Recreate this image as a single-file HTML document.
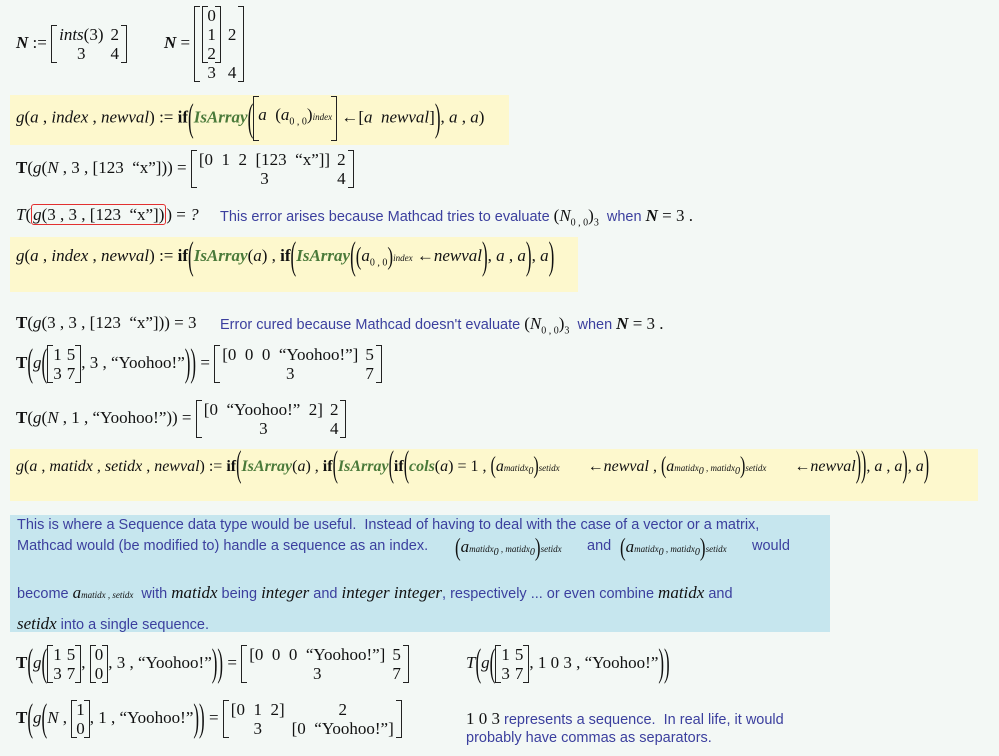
<!DOCTYPE html>
<html><head><meta charset="utf-8"><style>
body{margin:0;width:999px;height:756px;background:#f3f8f5;position:relative;overflow:hidden;font-family:"Liberation Serif",serif;font-size:17px;color:#111}
.a{position:absolute;white-space:nowrap}
.y{position:absolute;background:#fdf8cd}
.bl{position:absolute;background:#c6e6ee}
i{font-style:italic}
b{font-weight:bold}
.g{color:#4a7a3a;font-style:italic;font-weight:bold}
.t{font-family:"Liberation Sans",sans-serif;font-size:14.5px;color:#3b3f9e}
.mx{display:inline-table;vertical-align:middle;border-left:1.3px solid #222;border-right:1.3px solid #222;border-spacing:7px 0;
background:linear-gradient(#222,#222) 0 0/5px 1.3px no-repeat,linear-gradient(#222,#222) 100% 0/5px 1.3px no-repeat,linear-gradient(#222,#222) 0 100%/5px 1.3px no-repeat,linear-gradient(#222,#222) 100% 100%/5px 1.3px no-repeat}
.mx td{text-align:center;line-height:19px;padding:0}
.p{display:inline-block;transform:scaleY(2.3);font-weight:300;vertical-align:middle}
.p2{display:inline-block;transform:scaleY(1.5);vertical-align:middle}
sub{font-size:10px}
.s{font-size:9px;font-style:italic}
.m{font-family:'Liberation Serif',serif;color:#111;font-size:17px}
</style></head><body>

<div class="a" style="left:16px;top:25px"><b><i>N</i></b> := <table class="mx"><tr><td><i>ints</i>(3)</td><td>2</td></tr><tr><td>3</td><td>4</td></tr></table></div>
<div class="a" style="left:164px;top:6px"><b><i>N</i></b> = <table class="mx"><tr><td><table class="mx" style="border-spacing:4px 0"><tr><td>0</td></tr><tr><td>1</td></tr><tr><td>2</td></tr></table></td><td>2</td></tr><tr><td>3</td><td>4</td></tr></table></div>

<div class="y" style="left:10px;top:95px;width:499px;height:50px"></div>
<div class="a" style="left:16px;top:96px"><i>g</i>(<i>a</i> , <i>index</i> , <i>newval</i>) := <b>if</b><span class="p">(</span><span class="g">IsArray</span><span class="p">(</span><table class="mx" style="border-spacing:4px 0"><tr><td style="line-height:38px"><i>a</i> &nbsp;(<i>a</i><sub>0 , 0</sub>)<span class="s">index</span></td></tr></table> ←[<i>a</i> &nbsp;<i>newval</i>]<span class="p">)</span>, <i>a</i> , <i>a</i>)</div>

<div class="a" style="left:16px;top:150px"><b>T</b>(<i>g</i>(<i>N</i> , 3 , [123 &nbsp;“x”])) = <table class="mx"><tr><td>[0 &nbsp;1 &nbsp;2 &nbsp;[123 &nbsp;“x”]]</td><td>2</td></tr><tr><td>3</td><td>4</td></tr></table></div>

<div class="a" style="left:16px;top:205px"><i>T</i>(<span style="border:1.5px solid #e23030;border-radius:3px;padding:0 1px"><i>g</i>(3 , 3 , [123 &nbsp;“x”])</span>) = <i>?</i></div>
<div class="a t" style="left:220px;top:206px">This error arises because Mathcad tries to evaluate <span class="m">(<i>N</i><sub>0 , 0</sub>)<sub>3</sub></span> &nbsp;when <span class="m"><b><i>N</i></b> = 3 .</span></div>

<div class="y" style="left:10px;top:237px;width:568px;height:55px"></div>
<div class="a" style="left:16px;top:246px"><i>g</i>(<i>a</i> , <i>index</i> , <i>newval</i>) := <b>if</b><span class="p">(</span><span class="g">IsArray</span>(<i>a</i>) , <b>if</b><span class="p">(</span><span class="g">IsArray</span><span class="p">(</span><span class="p2">(</span><i>a</i><sub>0 , 0</sub><span class="p2">)</span><span class="s">index</span> ←<i>newval</i><span class="p">)</span>, <i>a</i> , <i>a</i><span class="p">)</span>, <i>a</i><span class="p">)</span></div>

<div class="a" style="left:16px;top:313px"><b>T</b>(<i>g</i>(3 , 3 , [123 &nbsp;“x”])) = 3</div>
<div class="a t" style="left:220px;top:314px">Error cured because Mathcad doesn't evaluate <span class="m">(<i>N</i><sub>0 , 0</sub>)<sub>3</sub></span> &nbsp;when <span class="m"><b><i>N</i></b> = 3 .</span></div>

<div class="a" style="left:16px;top:345px"><b>T</b><span class="p">(</span><i>g</i><span class="p">(</span><table class="mx" style="border-spacing:5px 0"><tr><td>1</td><td>5</td></tr><tr><td>3</td><td>7</td></tr></table>, 3 , “Yoohoo!”<span class="p">))</span> = <table class="mx"><tr><td>[0 &nbsp;0 &nbsp;0 &nbsp;“Yoohoo!”]</td><td>5</td></tr><tr><td>3</td><td>7</td></tr></table></div>

<div class="a" style="left:16px;top:400px"><b>T</b>(<i>g</i>(<i>N</i> , 1 , “Yoohoo!”)) = <table class="mx"><tr><td>[0 &nbsp;“Yoohoo!” &nbsp;2]</td><td>2</td></tr><tr><td>3</td><td>4</td></tr></table></div>

<div class="y" style="left:10px;top:449px;width:968px;height:52px"></div>
<div class="a" style="left:16px;top:458px;font-size:16px"><i>g</i>(<i>a</i> , <i>matidx</i> , <i>setidx</i> , <i>newval</i>) := <b>if</b><span class="p">(</span><span class="g">IsArray</span>(<i>a</i>) , <b>if</b><span class="p">(</span><span class="g">IsArray</span><span class="p">(</span><b>if</b><span class="p">(</span><span class="g">cols</span>(<i>a</i>) = 1 , <span class="p2">(</span><i>a</i><span class="s">matidx<sub>0</sub></span><span class="p2">)</span><span class="s">setidx</span> &nbsp;&nbsp;&nbsp;&nbsp;&nbsp;&nbsp;←<i>newval</i> , <span class="p2">(</span><i>a</i><span class="s">matidx<sub>0</sub> , matidx<sub>0</sub></span><span class="p2">)</span><span class="s">setidx</span> &nbsp;&nbsp;&nbsp;&nbsp;&nbsp;&nbsp;←<i>newval</i><span class="p">))</span>, <i>a</i> , <i>a</i><span class="p">)</span>, <i>a</i><span class="p">)</span></div>

<div class="bl" style="left:10px;top:515px;width:820px;height:117px"></div>
<div class="a t" style="left:17px;top:517px">This is where a Sequence data type would be useful.&nbsp; Instead of having to deal with the case of a vector or a matrix,</div>
<div class="a t" style="left:17px;top:538px">Mathcad would (be modified to) handle a sequence as an index.</div>
<div class="a" style="left:455px;top:537px"><span class="p2">(</span><i>a</i><span class="s">matidx<sub>0</sub> , matidx<sub>0</sub></span><span class="p2">)</span><span class="s">setidx</span></div>
<div class="a t" style="left:587px;top:538px">and</div>
<div class="a" style="left:620px;top:537px"><span class="p2">(</span><i>a</i><span class="s">matidx<sub>0</sub> , matidx<sub>0</sub></span><span class="p2">)</span><span class="s">setidx</span></div>
<div class="a t" style="left:752px;top:538px">would</div>
<div class="a t" style="left:17px;top:583px">become <span class="m"><i>a</i><span class="s">matidx , setidx</span></span> &nbsp;with <i class="m">matidx</i> being <i class="m">integer</i> and <i class="m">integer integer</i>, respectively ... or even combine <i class="m">matidx</i> and</div>
<div class="a t" style="left:17px;top:614px"><i class="m">setidx</i> into a single sequence.</div>

<div class="a" style="left:16px;top:645px"><b>T</b><span class="p">(</span><i>g</i><span class="p">(</span><table class="mx" style="border-spacing:5px 0"><tr><td>1</td><td>5</td></tr><tr><td>3</td><td>7</td></tr></table>, <table class="mx" style="border-spacing:4px 0"><tr><td>0</td></tr><tr><td>0</td></tr></table>, 3 , “Yoohoo!”<span class="p">))</span> = <table class="mx"><tr><td>[0 &nbsp;0 &nbsp;0 &nbsp;“Yoohoo!”]</td><td>5</td></tr><tr><td>3</td><td>7</td></tr></table></div>
<div class="a" style="left:466px;top:645px"><i>T</i><span class="p">(</span><i>g</i><span class="p">(</span><table class="mx" style="border-spacing:5px 0"><tr><td>1</td><td>5</td></tr><tr><td>3</td><td>7</td></tr></table>, 1 0 3 , “Yoohoo!”<span class="p">))</span></div>

<div class="a" style="left:16px;top:700px"><b>T</b><span class="p">(</span><i>g</i><span class="p">(</span><i>N</i> , <table class="mx" style="border-spacing:4px 0"><tr><td>1</td></tr><tr><td>0</td></tr></table>, 1 , “Yoohoo!”<span class="p">))</span> = <table class="mx"><tr><td>[0 &nbsp;1 &nbsp;2]</td><td>2</td></tr><tr><td>3</td><td>[0 &nbsp;“Yoohoo!”]</td></tr></table></div>
<div class="a t" style="left:466px;top:709px"><span class="m">1 0 3</span> represents a sequence.&nbsp; In real life, it would</div>
<div class="a t" style="left:466px;top:730px">probably have commas as separators.</div>
</body></html>
